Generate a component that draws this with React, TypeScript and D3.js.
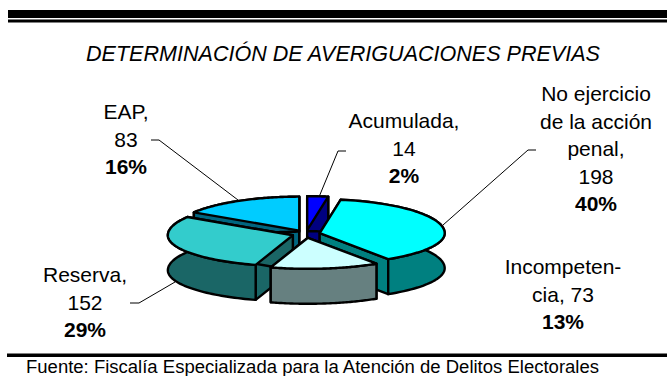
import React from "react";
import * as d3 from "d3";

const categories = ["Acumulada", "No ejercicio de la acción penal", "Incompetencia", "Reserva", "EAP"];
const values = [14, 198, 73, 152, 83];
const topColors = ["#0000FF", "#00FFFF", "#CCFFFF", "#33CCCC", "#00CCFF"];
const wallColors = ["#000080", "#008080", "#668080", "#1A6666", "#006680"];
const drawOrder = [4, 0, 3, 1, 2];

const labelLines = [
  { x: 404, y: 128, lines: ["Acumulada,", "14"], pct: "2%" },
  { x: 596, y: 101, lines: ["No ejercicio", "de la acción", "penal,", "198"], pct: "40%" },
  { x: 563, y: 274, lines: ["Incompeten-", "cia, 73"], pct: "13%" },
  { x: 85, y: 282, lines: ["Reserva,", "152"], pct: "29%" },
  { x: 126, y: 119, lines: ["EAP,", "83"], pct: "16%" },
];
const leaders: [number, number][][] = [
  [[346, 151], [338, 151], [319, 197]],
  [[536, 150], [528, 150], [443, 225]],
  [[130, 303], [139, 303], [175, 282]],
  [[151, 140], [159, 140], [238, 200]],
];

const cx = 306, cy = 234, rx = 125, ryBack = 34, ryFront = 31, depth = 35, explode = 14;
const font = "'Liberation Sans', Arial, sans-serif";

export default function App() {
  const arcs = d3.pie<number>().sort(null)(values);
  const line = d3.line();
  return (
    <svg width={667} height={376} style={{ position: "absolute", left: 0, top: 0, background: "#fff" }} fontFamily={font}>
      <rect x={8} y={10} width={659} height={8} fill="#000" />
      <rect x={8} y={19.5} width={659} height={3} fill="#000" />
      <rect x={7} y={353.5} width={660} height={3.5} fill="#000" />
      <text x={343} y={60.5} textAnchor="middle" fontSize={21.5} fontStyle="italic" textLength={514} lengthAdjust="spacingAndGlyphs">DETERMINACIÓN DE AVERIGUACIONES PREVIAS</text>
      <text x={26} y={373} fontSize={17.5} textLength={573} lengthAdjust="spacingAndGlyphs">Fuente: Fiscalía Especializada para la Atención de Delitos Electorales</text>
      {leaders.map((l, i) => <path key={i} d={line(l) ?? ""} fill="none" stroke="#000" strokeWidth={1} />)}
      {drawOrder.map((i) => {
        const a = arcs[i];
        const mid = (a.startAngle + a.endAngle) / 2;
        const ox = cx + explode * Math.sin(mid);
        const oy = cy - explode * (ryBack / rx) * Math.cos(mid);
        const pt = (t: number, dz = 0): [number, number] => {
          const c = Math.cos(t);
          return [ox + rx * Math.sin(t), oy - (c >= 0 ? ryBack : ryFront) * c + dz];
        };
        const ts = d3.range(0, 61).map((k) => a.startAngle + ((a.endAngle - a.startAngle) * k) / 60);
        const top: [number, number][] = [[ox, oy], ...ts.map((t) => pt(t))];
        const wall = (t: number): [number, number][] => [[ox, oy], pt(t), pt(t, depth), [ox, oy + depth]];
        const outer: [number, number][] = [...ts.map((t) => pt(t)), ...ts.slice().reverse().map((t) => pt(t, depth))];
        const common = { stroke: "#000", strokeWidth: 2.4, strokeLinejoin: "round" as const };
        return (
          <g key={categories[i]}>
            <path d={(line(wall(a.startAngle)) ?? "") + "Z"} fill={wallColors[i]} {...common} />
            <path d={(line(wall(a.endAngle)) ?? "") + "Z"} fill={wallColors[i]} {...common} />
            <path d={(line(outer) ?? "") + "Z"} fill={wallColors[i]} {...common} />
            <path d={(line(top) ?? "") + "Z"} fill={topColors[i]} {...common} />
          </g>
        );
      })}
      {labelLines.map((l) => (
        <text key={l.pct} textAnchor="middle" fontSize={21} fill="#000">
          {l.lines.map((s, j) => <tspan key={j} x={l.x} y={l.y + j * 27.5}>{s}</tspan>)}
          <tspan x={l.x} y={l.y + l.lines.length * 27.5} fontWeight="bold">{l.pct}</tspan>
        </text>
      ))}
    </svg>
  );
}
